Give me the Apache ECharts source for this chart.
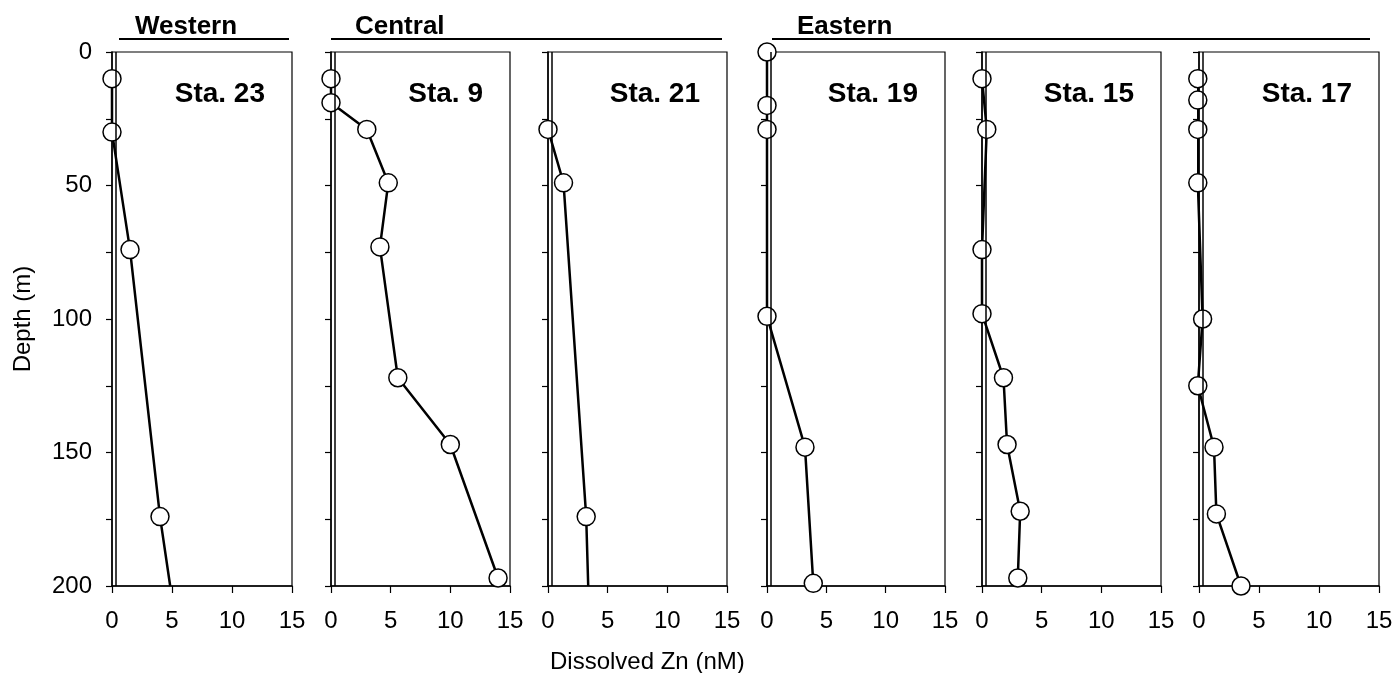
<!DOCTYPE html>
<html>
<head>
<meta charset="utf-8">
<title>Dissolved Zn profiles</title>
<script src="https://cdn.jsdelivr.net/npm/echarts@6/dist/echarts.min.js"></script>
<style>
  html, body { margin: 0; padding: 0; background: #fff; }
  #chart { width: 1396px; height: 673px; }
</style>
</head>
<body>
<div id="chart"></div>
<script>
// station order, left to right
const stations = ['Sta. 23', 'Sta. 9', 'Sta. 21', 'Sta. 19', 'Sta. 15', 'Sta. 17']
const regions = ['Western', 'Central', 'Eastern']

// depth (m) and dissolved Zn (nM)
const depth23 = [10, 30, 74, 174]
const zn23 = [0.0, 0.0, 1.5, 4.0]
const depth9 = [10, 19, 29, 49, 73, 122, 147, 197]
const zn9 = [0.0, 0.0, 3.0, 4.8, 4.1, 5.6, 10.0, 14.0]
const depth21 = [29, 49, 174]
const zn21 = [0.0, 1.3, 3.2]
const depth19 = [0, 20, 29, 99, 148, 199]
const zn19 = [0.0, 0.0, 0.0, 0.0, 3.2, 3.9]
const depth15 = [10, 29, 74, 98, 122, 147, 172, 197]
const zn15 = [0.0, 0.4, 0.0, 0.0, 1.8, 2.1, 3.2, 3.0]
const depth17 = [10, 18, 29, 49, 100, 125, 148, 173, 200]
const zn17 = [-0.1, -0.1, -0.1, -0.1, 0.3, -0.1, 1.25, 1.45, 3.5]

// where the profile line leaves the bottom of the panel (no sample marker)
const tailZn = [4.85, null, 3.37, null, null, null]
// detection limit line
const detectionLimit = 0.35

const depthTicks = [0, 50, 100, 150, 200]
const znTicks = [0, 5, 10, 15]

const profiles = [
  [depth23, zn23], [depth9, zn9], [depth21, zn21],
  [depth19, zn19], [depth15, zn15], [depth17, zn17]
]

const panelLeft = [112, 331, 548, 767, 982, 1199]
const panelWidth = [180, 179, 179, 178, 179, 180]
const panelTop = 52
const panelHeight = 534
const font = '"Liberation Sans", Arial, Helvetica, sans-serif'

function profileData(i) {
  const d = profiles[i][0]
  const z = profiles[i][1]
  const pts = d.map((v, k) => [z[k], v])
  if (tailZn[i] != null) {
    pts.push({ value: [tailZn[i], 200], symbol: 'none' })
  }
  return pts
}

const grid = []
const xAxis = []
const yAxis = []
const series = []
const graphic = []

stations.forEach((name, i) => {
  grid.push({
    left: panelLeft[i],
    top: panelTop,
    width: panelWidth[i],
    height: panelHeight,
    show: true,
    borderColor: '#000',
    borderWidth: 1.2,
    backgroundColor: 'transparent'
  })
  xAxis.push({
    type: 'value',
    gridIndex: i,
    min: 0,
    max: 15,
    interval: 5,
    axisLine: { onZero: false, lineStyle: { color: '#000', width: 1.5 } },
    axisTick: { inside: false, length: 7, lineStyle: { color: '#000', width: 1.2 } },
    axisLabel: {
      color: '#000', fontSize: 24, fontFamily: font, margin: 23,
      formatter: v => znTicks.indexOf(v) >= 0 ? String(v) : ''
    },
    splitLine: { show: false }
  })
  yAxis.push({
    type: 'value',
    gridIndex: i,
    inverse: true,
    min: 0,
    max: 200,
    interval: 25,
    name: i === 0 ? 'Depth (m)' : '',
    nameLocation: 'middle',
    nameGap: 77,
    nameTextStyle: { color: '#000', fontSize: 24, fontFamily: font },
    axisLine: { onZero: false, lineStyle: { color: '#000', width: 1.5 } },
    axisTick: { inside: false, length: 6, lineStyle: { color: '#000', width: 1.2 } },
    axisLabel: {
      show: i === 0,
      color: '#000', fontSize: 24, fontFamily: font, margin: 20,
      formatter: v => depthTicks.indexOf(v) >= 0 ? String(v) : ''
    },
    splitLine: { show: false }
  })
  series.push({
    name: name,
    type: 'line',
    xAxisIndex: i,
    yAxisIndex: i,
    clip: false,
    data: profileData(i),
    symbol: 'circle',
    symbolSize: 18,
    itemStyle: { color: '#fff', borderColor: '#000', borderWidth: 1.5 },
    lineStyle: { color: '#000', width: 2.5 },
    markLine: {
      silent: true,
      symbol: 'none',
      label: { show: false },
      lineStyle: { color: '#000', width: 1.5, type: 'solid' },
      data: [{ xAxis: detectionLimit }]
    },
    z: 3
  })
  graphic.push({
    type: 'text',
    x: panelLeft[i] + panelWidth[i] - 27,
    y: 80,
    style: {
      text: name,
      font: 'bold 28px ' + font,
      fill: '#000',
      textAlign: 'right'
    }
  })
})

// region headers with the rule under them
const regionText = [135, 355, 797]
const ruleFrom = [119, 331, 772]
const ruleTo = [289, 722, 1370]
regions.forEach((r, i) => {
  graphic.push({
    type: 'text',
    x: regionText[i],
    y: 14,
    style: { text: r, font: 'bold 26px ' + font, fill: '#000' }
  })
  graphic.push({
    type: 'line',
    shape: { x1: ruleFrom[i], y1: 39, x2: ruleTo[i], y2: 39 },
    style: { stroke: '#000', lineWidth: 2 }
  })
})

graphic.push({
  type: 'text',
  x: 550,
  y: 650,
  style: { text: 'Dissolved Zn (nM)', font: '24px ' + font, fill: '#000' }
})

const chart = echarts.init(document.getElementById('chart'))
chart.setOption({
  animation: false,
  backgroundColor: '#fff',
  grid: grid,
  xAxis: xAxis,
  yAxis: yAxis,
  series: series,
  graphic: graphic
})
</script>
</body>
</html>
